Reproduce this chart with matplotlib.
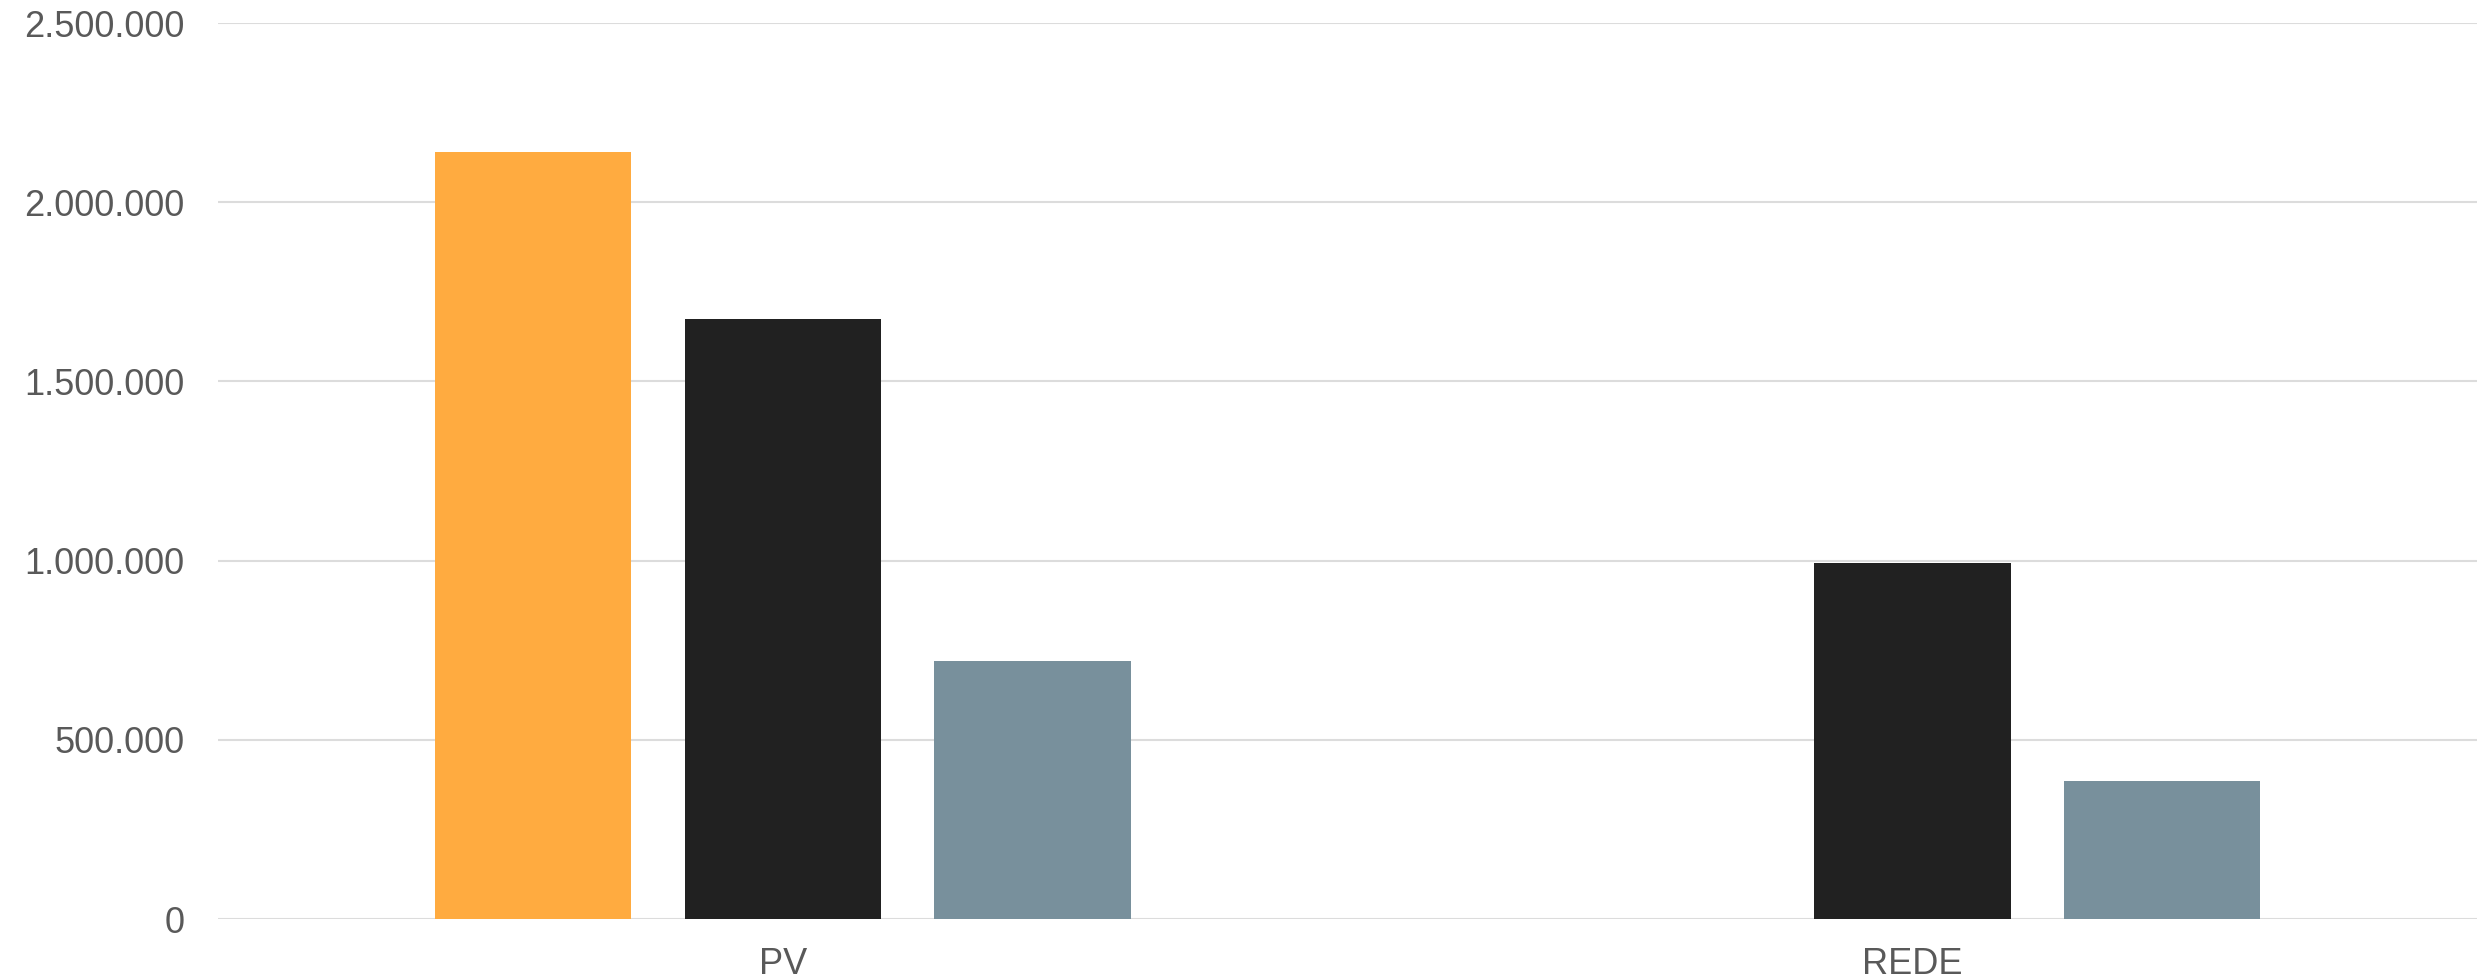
import numpy as np
import matplotlib
matplotlib.use('Agg')
import matplotlib.pyplot as plt
from matplotlib.ticker import FuncFormatter

plt.rcParams['font.family'] = ['Liberation Sans', 'DejaVu Sans']

# Data
categories = ['PV', 'REDE']
serie_laranja = [2140000, 0]
serie_preta = [1675000, 994000]
serie_cinza = [720000, 386000]
yticks = [0, 500000, 1000000, 1500000, 2000000, 2500000]

cores = ['#FFAB40', '#212121', '#78909C']
series = [serie_laranja, serie_preta, serie_cinza]
offsets = [-0.221, 0.0, 0.221]

fig = plt.figure(figsize=(24.78, 9.8), dpi=100)
ax = fig.add_axes([0.088, 0.0622, 0.9116, 0.9143])

x = np.arange(len(categories))
for vals, cor, off in zip(series, cores, offsets):
    ax.bar(x + off, vals, width=0.174, color=cor, linewidth=0, zorder=3)

ax.set_xlim(-0.5, 1.5)
ax.set_ylim(0, 2500000)
ax.set_yticks(yticks)
ax.yaxis.set_major_formatter(FuncFormatter(lambda v, p: '{:,.0f}'.format(v).replace(',', '.')))
ax.set_xticks(x)
ax.set_xticklabels(categories)

ax.grid(axis='y', color='#dcdcdc', linewidth=1.5, zorder=0)
ax.set_axisbelow(True)
for s in ax.spines.values():
    s.set_visible(False)
ax.tick_params(axis='both', length=0, labelsize=26, labelcolor='#595959')
ax.tick_params(axis='y', pad=24)
ax.tick_params(axis='x', pad=20)

plt.savefig('out.png', dpi=100)
